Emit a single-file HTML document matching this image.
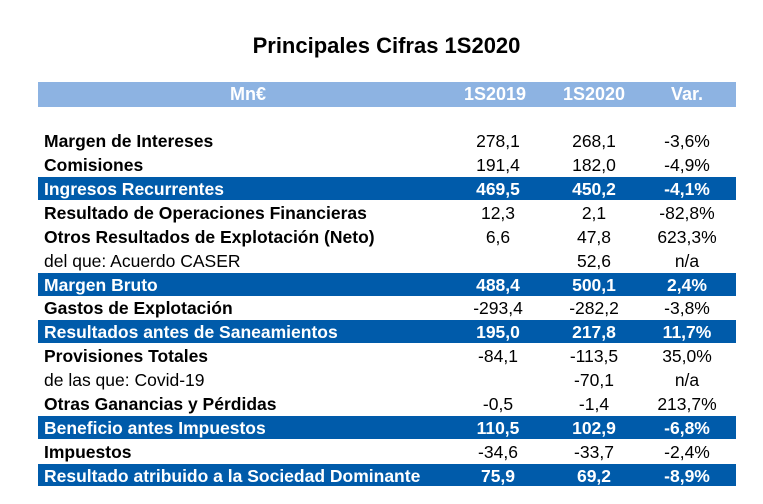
<!DOCTYPE html>
<html><head><meta charset="utf-8"><style>
body{margin:0;width:763px;height:504px;background:#fff;font-family:"Liberation Sans",Arial,sans-serif;position:relative;overflow:hidden}
.t{position:absolute;top:33px;left:0;width:773px;text-align:center;font-weight:bold;font-size:22px;color:#000}
.hdr{position:absolute;left:38px;top:82px;width:698px;height:25px;background:#8DB3E2;color:#fff;font-weight:bold;font-size:18px}
.r{position:absolute;left:38px;width:698px;height:23px;font-size:17.5px;color:#000}
.r.b{background:#005BAA;color:#fff;font-weight:bold}
.r span,.hdr span{position:absolute;top:2px;white-space:nowrap}
.hdr span{top:2px}
.l{left:6px}.lb{font-weight:bold}
.c1{left:420px;width:80px;text-align:center}
.c2{left:516px;width:80px;text-align:center}
.c3{left:609px;width:80px;text-align:center}
</style></head><body>
<div class="t">Principales Cifras 1S2020</div>
<div class="hdr"><span style="left:0;width:420px;text-align:center">Mn€</span><span class="c1" style="left:417px">1S2019</span><span class="c2">1S2020</span><span class="c3">Var.</span></div>
<div class="r" style="top:129px"><span class="l lb">Margen de Intereses</span><span class="c1">278,1</span><span class="c2">268,1</span><span class="c3">-3,6%</span></div>
<div class="r" style="top:153px"><span class="l lb">Comisiones</span><span class="c1">191,4</span><span class="c2">182,0</span><span class="c3">-4,9%</span></div>
<div class="r b" style="top:177px"><span class="l">Ingresos Recurrentes</span><span class="c1">469,5</span><span class="c2">450,2</span><span class="c3">-4,1%</span></div>
<div class="r" style="top:201px"><span class="l lb">Resultado de Operaciones Financieras</span><span class="c1">12,3</span><span class="c2">2,1</span><span class="c3">-82,8%</span></div>
<div class="r" style="top:225px"><span class="l lb">Otros Resultados de Explotación (Neto)</span><span class="c1">6,6</span><span class="c2">47,8</span><span class="c3">623,3%</span></div>
<div class="r" style="top:249px"><span class="l">del que: Acuerdo CASER</span><span class="c2">52,6</span><span class="c3">n/a</span></div>
<div class="r b" style="top:273px"><span class="l">Margen Bruto</span><span class="c1">488,4</span><span class="c2">500,1</span><span class="c3">2,4%</span></div>
<div class="r" style="top:296px"><span class="l lb">Gastos de Explotación</span><span class="c1">-293,4</span><span class="c2">-282,2</span><span class="c3">-3,8%</span></div>
<div class="r b" style="top:320px"><span class="l">Resultados antes de Saneamientos</span><span class="c1">195,0</span><span class="c2">217,8</span><span class="c3">11,7%</span></div>
<div class="r" style="top:344px"><span class="l lb">Provisiones Totales</span><span class="c1">-84,1</span><span class="c2">-113,5</span><span class="c3">35,0%</span></div>
<div class="r" style="top:368px"><span class="l">de las que: Covid-19</span><span class="c2">-70,1</span><span class="c3">n/a</span></div>
<div class="r" style="top:392px"><span class="l lb">Otras Ganancias y Pérdidas</span><span class="c1">-0,5</span><span class="c2">-1,4</span><span class="c3">213,7%</span></div>
<div class="r b" style="top:416px"><span class="l">Beneficio antes Impuestos</span><span class="c1">110,5</span><span class="c2">102,9</span><span class="c3">-6,8%</span></div>
<div class="r" style="top:440px"><span class="l lb">Impuestos</span><span class="c1">-34,6</span><span class="c2">-33,7</span><span class="c3">-2,4%</span></div>
<div class="r b" style="top:464px;height:22px"><span class="l">Resultado atribuido a la Sociedad Dominante</span><span class="c1">75,9</span><span class="c2">69,2</span><span class="c3">-8,9%</span></div>
</body></html>
